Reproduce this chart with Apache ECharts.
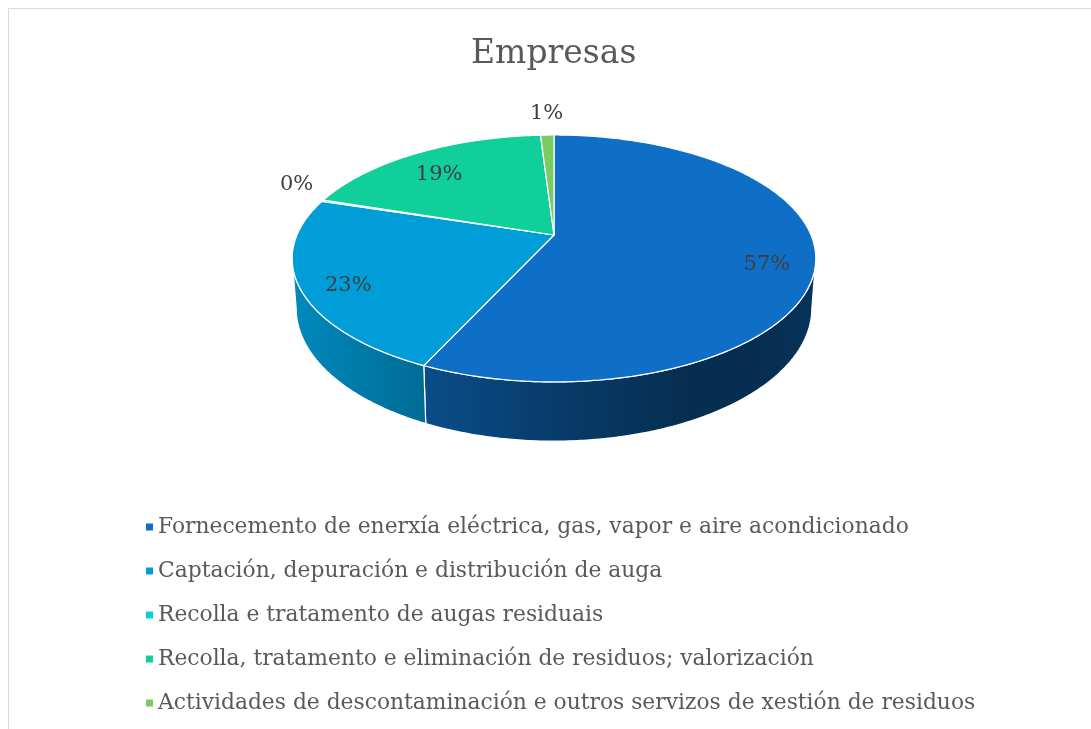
<!DOCTYPE html>
<html>
<head>
<meta charset="utf-8">
<script src="https://cdn.jsdelivr.net/npm/echarts@6/dist/echarts.min.js"></script>
<style>
  html, body { margin: 0; padding: 0; background: #fff; }
  #chart { width: 1091px; height: 729px; }
</style>
</head>
<body>
<div id="chart"></div>
<script>
const categories = [
  'Fornecemento de enerxía eléctrica, gas, vapor e aire acondicionado',
  'Captación, depuración e distribución de auga',
  'Recolla e tratamento de augas residuais',
  'Recolla, tratamento e eliminación de residuos; valorización',
  'Actividades de descontaminación e outros servizos de xestión de residuos'
];
const values = [57, 23, 0.2, 19, 1];
const colors = ['#0F6FC6', '#009DD9', '#0BD0D9', '#10CF9B', '#7CCA62'];

const total = values.reduce((a, b) => a + b, 0);
const FONT = '"DejaVu Serif", "Liberation Serif", serif';

// pie geometry: a tilted disc seen in perspective
const cx = 554, cy = 235;      // projected centre of the disc
const R = 257, RY = 119;       // horizontal / depth radius
const K = 0.19;                // perspective strength
const DEPTH = 48;              // thickness

// u,v are disc coords (v = 1 at the back)
function proj(u, v) {
  const w = 1 + K * v;
  return [cx + R * u / w, cy - RY * v / w];
}
function rim(t, f) {
  f = f || 1;
  return proj(f * Math.sin(t), f * Math.cos(t));
}
function rimBottom(t) {
  const p = rim(t);
  const w = 1 + K * Math.cos(t);
  return [cx + (p[0] - cx) * 0.985, p[1] + DEPTH / w];
}

function shade(hex, f) {
  const n = parseInt(hex.slice(1), 16);
  const r = Math.round(((n >> 16) & 255) * f);
  const g = Math.round(((n >> 8) & 255) * f);
  const b = Math.round((n & 255) * f);
  return 'rgb(' + r + ',' + g + ',' + b + ')';
}

function sideGradient(hex) {
  const stops = [[0, 0.87], [0.25, 0.69], [0.5, 0.54], [0.75, 0.41], [0.9, 0.41], [1, 0.46]];
  return new echarts.graphic.LinearGradient(cx - 262, 0, cx + 262, 0,
    stops.map(s => ({ offset: s[0], color: shade(hex, s[1]) })), true);
}

function renderSlice(params, api) {
  const i = params.seriesIndex;
  let before = 0;
  for (let k = 0; k < i; k++) before += values[k];
  const a0 = before / total * Math.PI * 2;
  const a1 = (before + api.value(0)) / total * Math.PI * 2;
  const children = [];

  // side face, only the part turned to the viewer
  const edge = Math.acos(-K);
  const s0 = Math.max(a0, edge), s1 = Math.min(a1, Math.PI * 2 - edge);
  if (s1 > s0) {
    const pts = [];
    const n = Math.max(2, Math.ceil((s1 - s0) / 0.01));
    for (let k = 0; k <= n; k++) pts.push(rim(s0 + (s1 - s0) * k / n));
    for (let k = n; k >= 0; k--) pts.push(rimBottom(s0 + (s1 - s0) * k / n));
    children.push({
      type: 'polygon',
      shape: { points: pts },
      style: { fill: sideGradient(colors[i]), stroke: '#ffffff', lineWidth: 1.2 }
    });
  }

  // top face
  const top = [[cx, cy]];
  const m = Math.max(2, Math.ceil((a1 - a0) / 0.01));
  for (let k = 0; k <= m; k++) top.push(rim(a0 + (a1 - a0) * k / m));
  children.push({
    type: 'polygon',
    shape: { points: top },
    style: { fill: colors[i], stroke: '#ffffff', lineWidth: 1.2 }
  });

  // data label
  const share = api.value(0) / total;
  const pct = Math.round(share * 100) + '%';
  const mid = (a0 + a1) / 2;
  let p;
  if (share >= 0.05) {
    p = rim(mid, 0.82);
    p[1] += 8;
  } else {
    p = rim(mid, 1.12);
    p[1] -= 12;
  }
  children.push({
    type: 'text',
    style: {
      text: pct, x: p[0], y: p[1], fill: '#404040',
      fontSize: 21, fontFamily: FONT, align: 'center', verticalAlign: 'middle'
    }
  });

  return { type: 'group', children: children };
}

const chart = echarts.init(document.getElementById('chart'));
chart.setOption({
  animation: false,
  title: {
    text: 'Empresas',
    left: 466,
    top: 33,
    textStyle: { fontFamily: FONT, fontSize: 33, fontWeight: 'normal', color: '#595959' }
  },
  legend: {
    orient: 'vertical',
    left: 141,
    top: 510,
    icon: 'rect',
    itemWidth: 7,
    itemHeight: 7,
    itemGap: 20,
    selectedMode: false,
    data: categories,
    textStyle: { fontFamily: FONT, fontSize: 21.8, color: '#595959', lineHeight: 24 }
  },
  graphic: [{
    type: 'rect',
    shape: { x: 8.5, y: 8.5, width: 1200, height: 1000 },
    style: { fill: 'none', stroke: '#d9d9d9', lineWidth: 1 },
    silent: true
  }],
  series: categories.map((name, i) => ({
    type: 'custom',
    name: name,
    coordinateSystem: 'none',
    itemStyle: { color: colors[i] },
    renderItem: renderSlice,
    data: [values[i]]
  }))
});
</script>
</body>
</html>
